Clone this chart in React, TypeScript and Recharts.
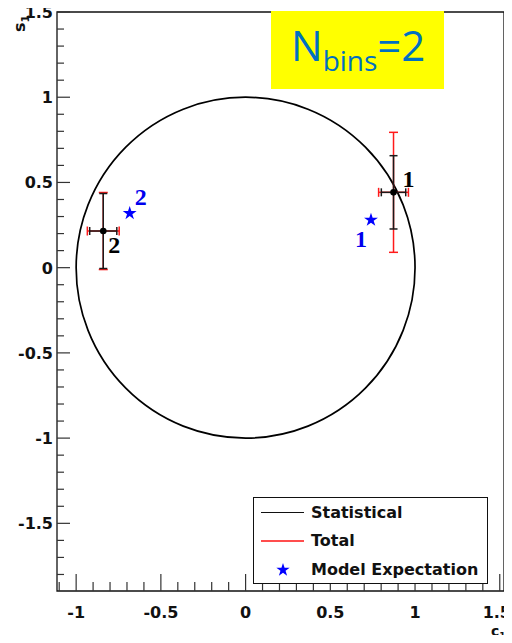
import React from 'react';
import {
  ScatterChart,
  Scatter,
  XAxis,
  YAxis,
  ErrorBar,
  ReferenceArea,
  Legend,
  Symbols,
} from 'recharts';

// ---- data ----
const pointLabels = ['1', '2'];
const measuredX = [0.873, -0.84];
const measuredY = [0.442, 0.215];
const statErrX = [0.072, 0.08];
const statErrY = [0.215, 0.22];
const totalErrX = [0.088, 0.094];
const totalErrY = [0.352, 0.226];
const expectedX = [0.74, -0.684];
const expectedY = [0.28, 0.319];

const circleRadius = 1;
const xDomain = [-1.113, 1.525];
const yDomain = [-1.897, 1.5];

const xTicks = [
  -1.1, -1.0, -0.9, -0.8, -0.7, -0.6, -0.5, -0.4, -0.3, -0.2, -0.1, 0, 0.1, 0.2, 0.3, 0.4,
  0.5, 0.6, 0.7, 0.8, 0.9, 1.0, 1.1, 1.2, 1.3, 1.4, 1.5,
];
const yTicks = [
  -1.8, -1.7, -1.6, -1.5, -1.4, -1.3, -1.2, -1.1, -1.0, -0.9, -0.8, -0.7, -0.6, -0.5, -0.4,
  -0.3, -0.2, -0.1, 0, 0.1, 0.2, 0.3, 0.4, 0.5, 0.6, 0.7, 0.8, 0.9, 1.0, 1.1, 1.2, 1.3, 1.4,
  1.5,
];

const legendNames = ['Statistical', 'Total', 'Model Expectation'];

const measured = pointLabels.map((label, i) => ({
  label,
  x: measuredX[i],
  y: measuredY[i],
  sx: statErrX[i],
  sy: statErrY[i],
  tx: totalErrX[i],
  ty: totalErrY[i],
}));

const expected = pointLabels.map((label, i) => ({
  label,
  x: expectedX[i],
  y: expectedY[i],
}));

// ---- styles ----
const W = 512;
const H = 643;
const AXIS_FONT = "'DejaVu Sans', sans-serif";
const TICK_COLOR = '#333';

// label offsets (style only)
const measLabelOffset = [
  { dx: 9, dy: -5, anchor: 'start' },
  { dx: 5, dy: 22, anchor: 'start' },
];
const expLabelOffset = [
  { dx: -4, dy: 27, anchor: 'end' },
  { dx: 5, dy: -8, anchor: 'start' },
];

const isMajor = (v: number) => Math.abs(v * 2 - Math.round(v * 2)) < 1e-6;
const fmt = (v: number) => String(Math.round(v * 10) / 10);

const XTick = (props: any) => {
  const { x, y, payload } = props;
  const v = payload.value as number;
  const major = isMajor(v);
  const atRightEdge = x + 14 > W;
  return (
    <g>
      <line x1={x} y1={y} x2={x} y2={y - (major ? 17 : 9)} stroke={TICK_COLOR} strokeWidth={1.2} />
      {major && (
        <text
          x={atRightEdge ? W - 1 : x}
          y={y + 27}
          textAnchor={atRightEdge ? 'end' : 'middle'}
          fontFamily={AXIS_FONT}
          fontWeight="bold"
          fontSize={16}
          fill="#111"
        >
          {fmt(v)}
        </text>
      )}
    </g>
  );
};

const YTick = (props: any) => {
  const { x, y, payload } = props;
  const v = payload.value as number;
  const major = isMajor(v);
  return (
    <g>
      <line x1={x} y1={y} x2={x + (major ? 13 : 7)} y2={y} stroke={TICK_COLOR} strokeWidth={1.2} />
      {major && (
        <text
          x={x - 4}
          y={y + 6}
          textAnchor="end"
          fontFamily={AXIS_FONT}
          fontWeight="bold"
          fontSize={16}
          fill="#111"
        >
          {fmt(v)}
        </text>
      )}
    </g>
  );
};

const MeasuredShape = (props: any) => {
  const { cx, cy, payload, index } = props;
  const off = measLabelOffset[index] || measLabelOffset[0];
  return (
    <g>
      <circle cx={cx} cy={cy} r={3.3} fill="#000" />
      <text
        x={cx + off.dx}
        y={cy + off.dy}
        textAnchor={off.anchor}
        fontFamily="'Liberation Serif', serif"
        fontWeight="bold"
        fontSize={24}
        fill="#000"
      >
        {payload.label}
      </text>
    </g>
  );
};

const ExpectedShape = (props: any) => {
  const { cx, cy, payload, index } = props;
  const off = expLabelOffset[index] || expLabelOffset[0];
  return (
    <g>
      <Symbols cx={cx} cy={cy} type="star" size={60} fill="#0000ff" />
      <text
        x={cx + off.dx}
        y={cy + off.dy}
        textAnchor={off.anchor}
        fontFamily="'Liberation Serif', serif"
        fontWeight="bold"
        fontSize={24}
        fill="#0000ee"
      >
        {payload.label}
      </text>
    </g>
  );
};

const CircleShape = (p: any) => (
  <ellipse
    cx={p.x + p.width / 2}
    cy={p.y + p.height / 2}
    rx={p.width / 2}
    ry={p.height / 2}
    fill="none"
    stroke="#000"
    strokeWidth={1.7}
  />
);

const LegendBox = () => {
  const rowStyle = (top: number): React.CSSProperties => ({
    position: 'absolute',
    left: 0,
    top,
    width: '100%',
    height: 0,
  });
  const textStyle: React.CSSProperties = {
    position: 'absolute',
    left: 57,
    top: -10,
    whiteSpace: 'nowrap',
    lineHeight: '20px',
  };
  return (
    <div
      style={{
        position: 'relative',
        width: 235,
        height: 87,
        boxSizing: 'border-box',
        border: '1px solid #111',
        background: '#fff',
        fontFamily: AXIS_FONT,
        fontWeight: 'bold',
        fontSize: 16,
        color: '#111',
      }}
    >
      <div style={rowStyle(14.5)}>
        <div style={{ position: 'absolute', left: 7, top: -1, width: 43, height: 1.5, background: '#111' }} />
        <span style={textStyle}>{legendNames[0]}</span>
      </div>
      <div style={rowStyle(43)}>
        <div style={{ position: 'absolute', left: 7, top: -1, width: 43, height: 2, background: '#ff4d4d' }} />
        <span style={textStyle}>{legendNames[1]}</span>
      </div>
      <div style={rowStyle(72)}>
        <svg style={{ position: 'absolute', left: 20, top: -9 }} width={18} height={18}>
          <Symbols cx={9} cy={9} type="star" size={55} fill="#0000ff" />
        </svg>
        <span style={textStyle}>{legendNames[2]}</span>
      </div>
    </div>
  );
};

export default function App() {
  return (
    <div style={{ position: 'relative', width: W, height: H, margin: -8, background: '#fff' }}>
      <ScatterChart width={W} height={H} margin={{ top: 12, right: 8, left: 0, bottom: 0 }}>
        <XAxis
          type="number"
          dataKey="x"
          domain={xDomain}
          allowDataOverflow
          ticks={xTicks}
          interval={0}
          tick={<XTick />}
          tickLine={false}
          axisLine={false}
          tickSize={0}
          tickMargin={0}
          height={52}
        />
        <YAxis
          type="number"
          dataKey="y"
          domain={yDomain}
          allowDataOverflow
          ticks={yTicks}
          interval={0}
          tick={<YTick />}
          tickLine={false}
          axisLine={false}
          tickSize={0}
          tickMargin={0}
          width={57}
        />
        <ReferenceArea
          x1={xDomain[0]}
          x2={xDomain[1]}
          y1={yDomain[0]}
          y2={yDomain[1]}
          fill="none"
          fillOpacity={0}
          stroke="#111"
          strokeWidth={1.3}
          ifOverflow="visible"
        />
        <ReferenceArea
          x1={-circleRadius}
          x2={circleRadius}
          y1={-circleRadius}
          y2={circleRadius}
          shape={CircleShape}
          ifOverflow="visible"
        />
        <Scatter
          name={legendNames[1]}
          data={measured}
          shape={() => <g />}
          isAnimationActive={false}
        >
          <ErrorBar dataKey="tx" direction="x" stroke="#ff1a1a" strokeWidth={1.5} width={4.5} isAnimationActive={false} />
          <ErrorBar dataKey="ty" direction="y" stroke="#ff1a1a" strokeWidth={1.5} width={4.5} isAnimationActive={false} />
        </Scatter>
        <Scatter
          name={legendNames[0]}
          data={measured}
          shape={MeasuredShape}
          isAnimationActive={false}
        >
          <ErrorBar dataKey="sx" direction="x" stroke="#1a1a1a" strokeWidth={1.5} width={4} isAnimationActive={false} />
          <ErrorBar dataKey="sy" direction="y" stroke="#1a1a1a" strokeWidth={1.5} width={4} isAnimationActive={false} />
        </Scatter>
        <Scatter
          name={legendNames[2]}
          data={expected}
          shape={ExpectedShape}
          isAnimationActive={false}
        />
        <Legend
          layout="vertical"
          align="center"
          verticalAlign="middle"
          width={235}
          height={87}
          wrapperStyle={{ left: 253, top: 497, width: 235, height: 87 }}
          content={() => <LegendBox />}
        />
      </ScatterChart>

      {/* N_bins annotation box */}
      <div
        style={{
          position: 'absolute',
          left: 271,
          top: 11,
          width: 173,
          height: 78,
          background: '#ffff00',
          fontFamily: "'Open Sans', sans-serif",
          color: '#0070c0',
          whiteSpace: 'nowrap',
        }}
      >
        <div style={{ position: 'absolute', left: 20, top: 4, fontSize: 42, lineHeight: '60px' }}>
          N<span style={{ fontSize: 28, position: 'relative', top: 10 }}>bins</span>=2
        </div>
      </div>

      {/* axis titles */}
      <div
        style={{
          position: 'absolute',
          left: 6,
          top: 4,
          width: 28,
          height: 28,
          fontFamily: AXIS_FONT,
          fontWeight: 'bold',
          fontSize: 16,
          color: '#111',
          transform: 'rotate(-90deg)',
          transformOrigin: 'center',
          whiteSpace: 'nowrap',
          lineHeight: '28px',
        }}
      >
        s<span style={{ fontSize: 11, position: 'relative', top: 4 }}>1</span>
      </div>
      <div
        style={{
          position: 'absolute',
          left: 491,
          top: 622,
          fontFamily: AXIS_FONT,
          fontWeight: 'bold',
          fontSize: 14,
          color: '#111',
          whiteSpace: 'nowrap',
          lineHeight: '18px',
        }}
      >
        c<span style={{ fontSize: 9, position: 'relative', top: 3 }}>1</span>
      </div>
    </div>
  );
}
